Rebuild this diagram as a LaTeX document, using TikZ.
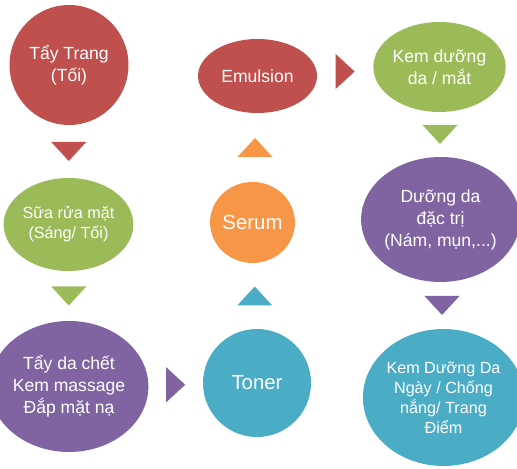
\documentclass[tikz,border=0pt]{standalone}
\usepackage{fontspec}
\setmainfont{Liberation Sans}
\usetikzlibrary{shapes.geometric,calc}
\definecolor{cRed}{HTML}{C0504D}
\definecolor{cGreen}{HTML}{9BBB59}
\definecolor{cPurple}{HTML}{8064A2}
\definecolor{cOrange}{HTML}{F79646}
\definecolor{cBlue}{HTML}{4BACC6}

\begin{document}
\begin{tikzpicture}[x=0.02cm,y=0.02cm,
  blob/.style={ellipse,inner sep=0pt,text=white,align=center,font=\fontsize{10}{12.5}\selectfont},
  small/.style={font=\fontsize{9.2}{11.4}\selectfont},
  big/.style={font=\fontsize{11.6}{14}\selectfont},
  tri/.pic={\path[pic actions] (-9.5,-17.5) -- (-9.5,17.5) -- (9.5,0) -- cycle;}]
  \useasboundingbox (0,0) rectangle (517,469);
  % left column
  \node[blob,fill=cRed,minimum width=2.38cm,minimum height=2.4cm] (tay) at (69,404) {Tẩy Trang\\(Tối)};
  \node[blob,small,fill=cGreen,minimum width=2.34cm,minimum height=1.86cm] (sua) at (68.5,244.5) {Sữa rửa mặt\\(Sáng/ Tối)};
  \node[blob,fill=cPurple,minimum width=2.64cm,minimum height=2.62cm] (dachet) at (69,82.5) {Tẩy da chết\\Kem massage\\Đắp mặt nạ};
  % middle column
  \node[blob,big,fill=cBlue,minimum width=2.16cm,minimum height=2.16cm] (toner) at (257,86) {Toner};
  \node[blob,big,fill=cOrange,minimum width=1.62cm,minimum height=1.62cm] (serum) at (252.5,246.5) {Serum};
  \node[blob,fill=cRed,minimum width=2.38cm,minimum height=1.48cm] (emul) at (257.5,393) {Emulsion};
  % right column
  \node[blob,fill=cGreen,minimum width=2.46cm,minimum height=1.8cm] (kem) at (439.5,402) {Kem dưỡng\\da / mắt};
  \node[blob,fill=cPurple,minimum width=2.82cm,minimum height=2.5cm] (dac) at (440.5,249.5) {Dưỡng da\\đặc trị\\(Nám, mụn,...)};
  \node[blob,small,fill=cBlue,minimum width=2.74cm,minimum height=2.74cm] (ngay) at (443.5,71.5) {Kem Dưỡng Da\\Ngày / Chống\\nắng/ Trang\\Điểm};
  % arrows
  \foreach \a/\b/\c/\r in {tay.south/sua.north/cRed/-90, sua.south/dachet.north/cGreen/-90,
      dachet.east/toner.west/cPurple/0, toner.north/serum.south/cBlue/90,
      serum.north/emul.south/cOrange/90, emul.east/kem.west/cRed/0,
      kem.south/dac.north/cGreen/-90, dac.south/ngay.north/cPurple/-90}
    { \pic[fill=\c,rotate=\r] at ($(\a)!0.5!(\b)$) {tri}; }
\end{tikzpicture}
\end{document}
